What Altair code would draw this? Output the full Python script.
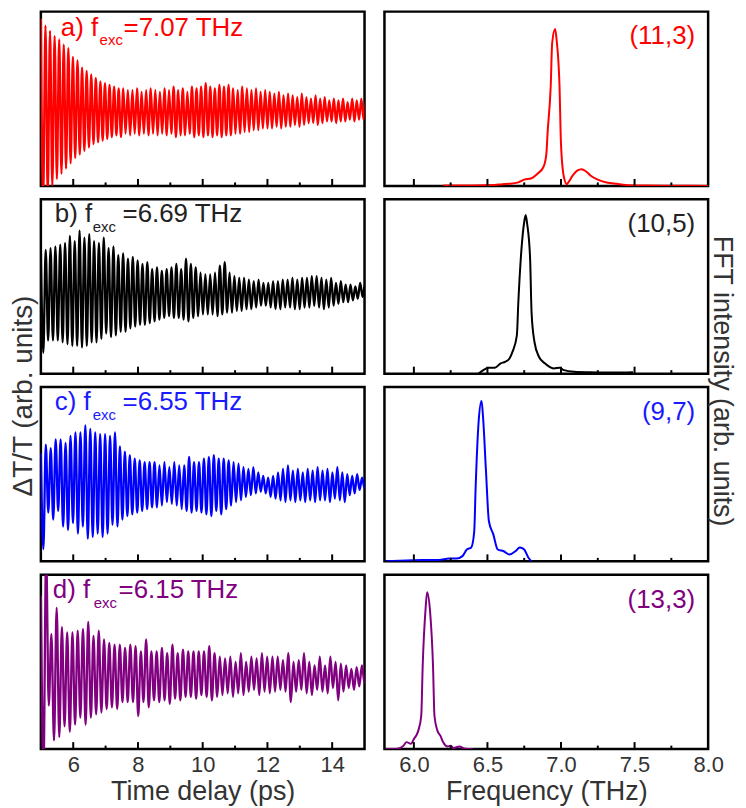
import altair as alt
import pandas as pd

# ---------------- data ----------------
# excitation frequencies (THz)
f_exc = [7.07, 6.69, 6.55, 6.15]
panel_tags = ["a)", "b)", "c)", "d)"]
exc_labels = ["=7.07 THz", "=6.69 THz", "=6.55 THz", "=6.15 THz"]
chirality = ["(11,3)", "(10,5)", "(9,7)", "(13,3)"]

# successive oscillation maxima / minima of dT/T (percent of panel height)
hi_a = [96, 92, 89, 86, 84, 81, 79, 74, 72, 68, 66, 64, 62, 60, 59, 58, 57, 56, 56, 55,
        55, 56, 54, 55, 56, 55, 54, 56, 55, 57, 55, 56, 54, 57, 56, 57, 59, 57, 56, 58,
        57, 58, 56, 55, 57, 56, 55, 56, 54, 55, 54, 53, 54, 52, 53, 52, 51, 53, 51, 50,
        52, 50, 51, 49, 50, 49, 50, 48, 50, 49, 50, 49]
lo_a = [-8, -4, 0, 4, 7, 10, 13, 16, 18, 20, 22, 24, 25, 26, 27, 28, 29, 28, 30, 29,
        30, 29, 30, 29, 30, 29, 30, 29, 30, 28, 29, 29, 30, 28, 29, 28, 29, 28, 29, 28,
        29, 29, 30, 30, 31, 31, 32, 32, 33, 33, 33, 34, 33, 34, 34, 35, 34, 35, 36, 36,
        35, 36, 37, 37, 36, 37, 37, 38, 37, 38, 38, 38]
hi_b = [70, 71, 72, 73, 74, 75, 79, 76, 82, 78, 80, 76, 75, 78, 72, 73, 68, 69, 66, 67,
        65, 63, 64, 60, 61, 59, 60, 61, 63, 60, 66, 63, 61, 58, 57, 57, 58, 62, 64, 58,
        56, 55, 55, 54, 53, 54, 52, 52, 53, 53, 54, 54, 55, 54, 55, 55, 56, 56, 55, 54,
        55, 52, 53, 51, 51, 50, 52, 51]
lo_b = [12, 19, 19, 19, 18, 17, 16, 16, 15, 16, 18, 18, 20, 23, 21, 22, 24, 24, 26, 27,
        28, 28, 29, 30, 31, 32, 33, 32, 32, 31, 30, 32, 33, 34, 34, 34, 33, 34, 35, 35,
        36, 36, 37, 37, 38, 39, 39, 38, 37, 37, 38, 38, 37, 37, 38, 38, 39, 38, 37, 38,
        39, 40, 41, 41, 42, 43, 44, 44]
hi_c = [62, 67, 65, 70, 70, 68, 72, 74, 74, 78, 76, 74, 73, 73, 72, 74, 66, 63, 61, 59,
        58, 57, 57, 57, 55, 57, 54, 57, 55, 55, 60, 57, 57, 59, 60, 61, 59, 59, 58, 57,
        56, 54, 53, 54, 51, 49, 48, 49, 51, 53, 55, 52, 53, 51, 53, 52, 54, 52, 53, 51,
        54, 51, 50, 49, 50, 48, 49]
lo_c = [7, 28, 24, 29, 20, 18, 22, 16, 20, 13, 14, 16, 14, 16, 21, 20, 24, 26, 27, 28,
        29, 30, 31, 31, 32, 34, 33, 32, 30, 29, 28, 29, 28, 27, 26, 29, 27, 30, 32, 34,
        35, 37, 38, 39, 40, 39, 37, 36, 35, 34, 35, 34, 35, 34, 35, 34, 35, 35, 34, 36,
        35, 34, 38, 39, 41, 42, 42]
hi_d = [88, 112, 66, 81, 70, 67, 67, 68, 69, 73, 65, 68, 63, 61, 60, 60, 58, 60, 59, 56,
        63, 56, 56, 58, 55, 60, 55, 57, 56, 56, 56, 56, 59, 55, 53, 52, 53, 50, 55, 50,
        53, 52, 55, 53, 53, 53, 51, 55, 50, 51, 55, 50, 48, 53, 48, 53, 50, 49, 48, 46,
        47, 48, 47]
lo_d = [-10, 25, 5, 7, 13, 10, 14, 18, 14, 18, 20, 21, 23, 24, 23, 27, 27, 27, 19, 27,
        24, 28, 27, 28, 26, 29, 28, 30, 30, 29, 31, 30, 28, 30, 31, 32, 30, 32, 31, 33,
        34, 31, 33, 32, 33, 34, 33, 27, 33, 34, 32, 31, 34, 33, 32, 35, 28, 33, 35, 34,
        36, 38, 38]

# FFT spectra: frequency (THz) and intensity (percent of panel height)
fft_f_a = [6.20, 6.40, 6.55, 6.60, 6.65, 6.71, 6.75, 6.80, 6.84, 6.88, 6.90, 6.91, 6.93,
           6.94, 6.96, 6.97, 6.99, 7.00, 7.02, 7.04, 7.05, 7.08, 7.11, 7.14, 7.17, 7.20,
           7.25, 7.31, 7.38, 7.47, 7.58, 7.75, 8.00]
fft_i_a = [0.3, 0.3, 0.5, 1, 1.2, 2, 3.6, 4.4, 7, 10.7, 18, 32, 57, 82, 90, 84, 57, 24,
           5, 1, 2, 6, 8.8, 9.6, 8.3, 6, 3.6, 2, 1.2, 0.4, 0.2, 0.1, 0]
fft_f_b = [6.44, 6.47, 6.51, 6.55, 6.59, 6.62, 6.65, 6.67, 6.70, 6.71, 6.73, 6.75, 6.76,
           6.77, 6.79, 6.80, 6.82, 6.85, 6.89, 6.92, 6.95, 6.99, 7.02, 7.09, 7.20, 7.36, 7.49]
fft_i_b = [0, 1.9, 3.4, 3.4, 5.9, 6.8, 8.7, 12.5, 22, 41, 70, 87, 91, 86, 66, 35, 18,
           9.7, 5.9, 4, 3, 3.4, 2, 1.1, 0.8, 0.6, 0.8]
fft_f_c = [5.81, 5.90, 6.06, 6.17, 6.24, 6.29, 6.33, 6.36, 6.39, 6.41, 6.42, 6.44, 6.46,
           6.47, 6.49, 6.51, 6.54, 6.57, 6.61, 6.65, 6.69, 6.72, 6.75, 6.78, 6.80]
fft_i_c = [0, 0.4, 0.8, 0.8, 1.6, 1.6, 3, 6.8, 8, 17, 43, 80, 92, 83, 52, 23, 15.5, 6.8,
           5.8, 3.9, 5.8, 8, 6.8, 1.9, 0]
fft_f_d = [5.81, 5.88, 5.93, 5.95, 5.98, 6.00, 6.03, 6.05, 6.06, 6.08, 6.09, 6.11, 6.13,
           6.14, 6.16, 6.18, 6.20, 6.23, 6.25, 6.27, 6.31, 6.34, 6.40]
fft_i_d = [0, 0, 2, 4, 3, 5.8, 10.6, 19, 48, 81, 90, 79, 48, 19, 10.6, 7.7, 3.8, 1.5,
           1.9, 0.6, 1.5, 0.4, 0]

time_major = [6, 8, 10, 12, 14]
time_minor = [7, 9, 11, 13]
freq_major = [6.0, 6.5, 7.0, 7.5]
freq_minor = [6.25, 6.75, 7.25, 7.75]
freq_labels = [6.0, 6.5, 7.0, 7.5, 8.0]

# ---------------- styling ----------------
W, H = 325, 175
FONT = "Liberation Sans"
GREY = "#333333"
line_colors = ["#ff0000", "#000000", "#0000ff", "#800080"]
text_colors = ["#ff0000", "#222222", "#1a1aff", "#800080"]
tag_x = [20, 14, 14, 12]
sub_x = [59, 52, 52, 53]
eq_x = [83, 82, 82, 78]
base_y = [24, 23, 23, 23]

his = [hi_a, hi_b, hi_c, hi_d]
los = [lo_a, lo_b, lo_c, lo_d]
ffs = [fft_f_a, fft_f_b, fft_f_c, fft_f_d]
fis = [fft_i_a, fft_i_b, fft_i_c, fft_i_d]

ONE = pd.DataFrame({"d": [0]})


def text(s, x, y, color, size, **kw):
    return alt.Chart(ONE).mark_text(
        text=s, font=FONT, fontSize=size, color=color, **kw
    ).encode(x=alt.value(x), y=alt.value(y))


def tick_layer(vals, length, scale, axis):
    return alt.Chart(pd.DataFrame({"t": vals})).mark_rule(
        color="black", strokeWidth=2
    ).encode(
        x=alt.X("t:Q", scale=scale, axis=axis),
        y=alt.value(H), y2=alt.value(H - length),
    )


def bottom_axis(values, title, fmt=None):
    kw = dict(values=values, ticks=False, tickSize=0, domain=False, grid=False,
              labelFontSize=22, labelPadding=5, labelFlush=False,
              title=title, titleFontSize=27, titlePadding=3.2,
              titleFontWeight="normal")
    if fmt:
        kw["format"] = fmt
    return alt.Axis(**kw)


charts = []
for i in range(4):
    bottom = i == 3
    f = f_exc[i]
    rows = []
    for k, (h, l) in enumerate(zip(his[i], los[i])):
        rows.append({"t": 5 + k / f, "v": h})
        rows.append({"t": 5 + (k + 0.5) / f, "v": l})
    tdf = pd.DataFrame(rows)

    tscale = alt.Scale(domain=[5, 15], nice=False, zero=False)
    yscale = alt.Scale(domain=[0, 100], nice=False, zero=False)
    taxis = bottom_axis(time_major, "Time delay (ps)") if bottom else None

    trace = alt.Chart(tdf).mark_line(
        color=line_colors[i], strokeWidth=2.3, clip=True, interpolate="monotone"
    ).encode(
        x=alt.X("t:Q", scale=tscale, axis=taxis),
        y=alt.Y("v:Q", scale=yscale, axis=None),
        order="t:Q",
    )
    left_layers = [
        trace,
        tick_layer(time_major, 7, tscale, taxis),
        tick_layer(time_minor, 3.5, tscale, taxis),
        text(panel_tags[i] + " f", tag_x[i], base_y[i], text_colors[i], 26,
             align="left", baseline="alphabetic"),
        text("exc", sub_x[i], base_y[i] + 10, text_colors[i], 15,
             align="left", baseline="alphabetic"),
        text(exc_labels[i], eq_x[i], base_y[i], text_colors[i], 26,
             align="left", baseline="alphabetic"),
    ]
    if i == 2:
        left_layers.append(text("ΔT/T (arb. units)", -17, 9, GREY, 28,
                                align="center", baseline="middle", angle=270))
    left = alt.layer(*left_layers).properties(width=W, height=H)

    fscale = alt.Scale(domain=[5.8, 8.0], nice=False, zero=False)
    faxis = bottom_axis(freq_labels, "Frequency (THz)", ".1f") if bottom else None
    fdf = pd.DataFrame({"t": ffs[i], "v": fis[i]})
    spec = alt.Chart(fdf).mark_line(
        color=line_colors[i], strokeWidth=2, clip=True, interpolate="monotone"
    ).encode(
        x=alt.X("t:Q", scale=fscale, axis=faxis),
        y=alt.Y("v:Q", scale=yscale, axis=None),
    )
    right_layers = [
        spec,
        tick_layer(freq_major, 7, fscale, faxis),
        tick_layer(freq_minor, 3.5, fscale, faxis),
        text(chirality[i], 312, 33, text_colors[i], 26,
             align="right", baseline="alphabetic"),
    ]
    if i == 2:
        right_layers.append(text("FFT intensity (arb. units)", 339, -6, GREY, 27,
                                 align="center", baseline="middle", angle=90))
    right = alt.layer(*right_layers).properties(width=W, height=H)
    charts += [left, right]

chart = alt.concat(
    *charts, columns=2, spacing={"row": 13.5, "column": 20}, bounds="flush"
).properties(
    padding={"left": 0, "top": 0, "right": 0, "bottom": 0}
).configure_view(
    stroke="black", strokeWidth=2.5
).configure_axis(
    labelFont=FONT, titleFont=FONT, labelColor=GREY, titleColor=GREY
)

chart.save("out.html", embed_options={"renderer": "svg", "actions": False})
